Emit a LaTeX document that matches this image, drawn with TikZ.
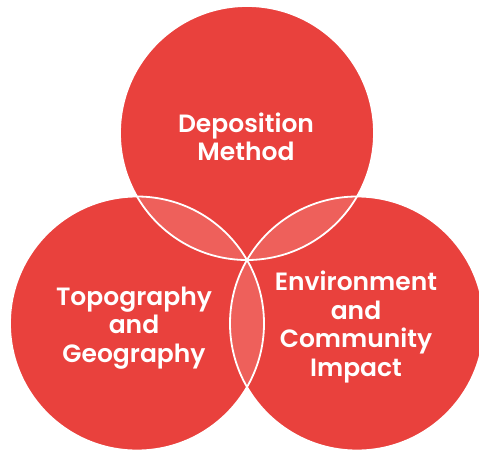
\documentclass[tikz,border=0pt]{standalone}
\usepackage{fontspec}
\newfontfamily\lab{Poppins}[UprightFont={* SemiBold}]
\definecolor{vred}{HTML}{E9413D}
\definecolor{vlens}{HTML}{EE605B}
\begin{document}
\begin{tikzpicture}[x=1pt,y=1pt,
  disc/.style={circle,inner sep=0pt,minimum size=254pt,fill=vred},
  rim/.style={draw=white,line width=1.8pt},
  label/.style={text=white,align=center,font=\lab\fontsize{25}{28.5}\selectfont}]
\useasboundingbox (0,0) rectangle (479,-450);
\clip (0,0) rectangle (479,-450);
% three discs meeting at one common point
\coordinate (c0) at (247,-260);
\node[disc] (top)   at (247,-133) {};
\node[disc] (left)  at (137,-323.5) {};
\node[disc] (right) at (357,-323.5) {};
% lighter pairwise overlaps
\begin{scope}
  \clip (247,-133) circle (127);
  \fill[vlens] (137,-323.5) circle (127);
  \fill[vlens] (357,-323.5) circle (127);
\end{scope}
\begin{scope}
  \clip (137,-323.5) circle (127);
  \fill[vlens] (357,-323.5) circle (127);
\end{scope}
% white rims
\draw[rim] (top.center) circle (127);
\draw[rim] (left.center) circle (127);
\draw[rim] (right.center) circle (127);
% captions
\node[label] (ltop) at (246,-137) {Deposition\\Method};
\node[label] (lleft) at (134,-328) {Topography\\and\\Geography};
\node[label] (lright) at (356,-327) {Environment\\and\\Community\\Impact};
\end{tikzpicture}
\end{document}
